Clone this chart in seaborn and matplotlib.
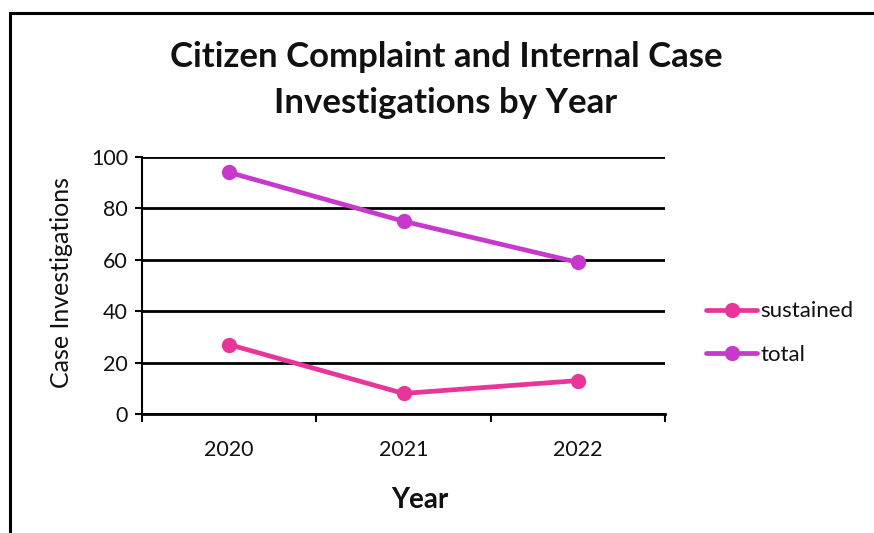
import matplotlib
matplotlib.use("Agg")
import matplotlib.pyplot as plt
import seaborn as sns
import pandas as pd
from matplotlib.patches import Rectangle

years = ["2020", "2021", "2022"]
sustained = [27, 8, 13]
total = [94, 75, 59]
series_names = ["sustained", "total"]
colors = {"sustained": "#E8359A", "total": "#C838CC"}

df = pd.DataFrame({
    "Year": years * 2,
    "value": sustained + total,
    "series": ["sustained"] * 3 + ["total"] * 3,
})

sns.set_theme(style="white")
plt.rcParams["font.family"] = ["Lato", "DejaVu Sans"]

fig = plt.figure(figsize=(8.74, 5.33), dpi=100)
ax = fig.add_axes([142 / 874, 1 - 414 / 533, (665 - 142) / 874, (414 - 157) / 533])

sns.lineplot(data=df, x="Year", y="value", hue="series", hue_order=series_names,
             palette=colors, marker="o", markersize=11, linewidth=3.4,
             markeredgewidth=0, ax=ax, sort=False, zorder=3)

ax.set_xlim(-0.5, 2.5)
ax.set_ylim(0, 100)
ax.set_yticks([0, 20, 40, 60, 80, 100])
ax.yaxis.grid(True, color="black", linewidth=2)
ax.xaxis.grid(False)
for s in ["top", "right"]:
    ax.spines[s].set_visible(False)
ax.spines["left"].set_color("black")
ax.spines["left"].set_linewidth(1.5)
ax.spines["bottom"].set_color("black")
ax.spines["bottom"].set_linewidth(2)
ax.tick_params(axis="y", left=True, length=5, width=1.5, color="black", labelsize=15.5, pad=5,
               labelcolor="#111111")
ax.set_xticks([0, 1, 2])
ax.set_xticklabels(years)
ax.tick_params(axis="x", bottom=False, labelsize=15.5, pad=13, labelcolor="#111111")
ax.set_xticks([-0.5, 0.5, 1.5, 2.5], minor=True)
ax.tick_params(axis="x", which="minor", bottom=True, length=6, width=1.5, color="black")

ax.set_ylabel("Case Investigations", fontsize=18, labelpad=8, color="#111111")
ax.yaxis.set_label_coords(62 / 874, 1 - 283 / 533, transform=fig.transFigure)
ax.set_xlabel("Year", fontsize=20, fontweight="bold", color="#111111")
ax.xaxis.set_label_coords(420 / 874, 1 - 500 / 533, transform=fig.transFigure)
ax.xaxis.label.set_va("center")
ax.yaxis.label.set_va("center")

fig.text(446 / 874, 1 - 57 / 533, "Citizen Complaint and Internal Case",
         ha="center", va="center", fontsize=25, fontweight="bold", color="#111111")
fig.text(446 / 874, 1 - 103 / 533, "Investigations by Year",
         ha="center", va="center", fontsize=25, fontweight="bold", color="#111111")

handles, labels = ax.get_legend_handles_labels()
ax.legend(handles, labels, loc="center left", bbox_to_anchor=(695 / 874, 1 - 333 / 533),
          bbox_transform=fig.transFigure, frameon=False, fontsize=16,
          handlelength=2.3, handletextpad=0.15, labelspacing=1.05, borderpad=0,
          labelcolor="#111111")

fig.patches.append(Rectangle((10 / 874, -0.1), 1.2, 1 - 12.5 / 533 + 0.1,
                             transform=fig.transFigure, fill=False,
                             edgecolor="black", linewidth=2.2, figure=fig))

fig.savefig("out.png", dpi=100)
